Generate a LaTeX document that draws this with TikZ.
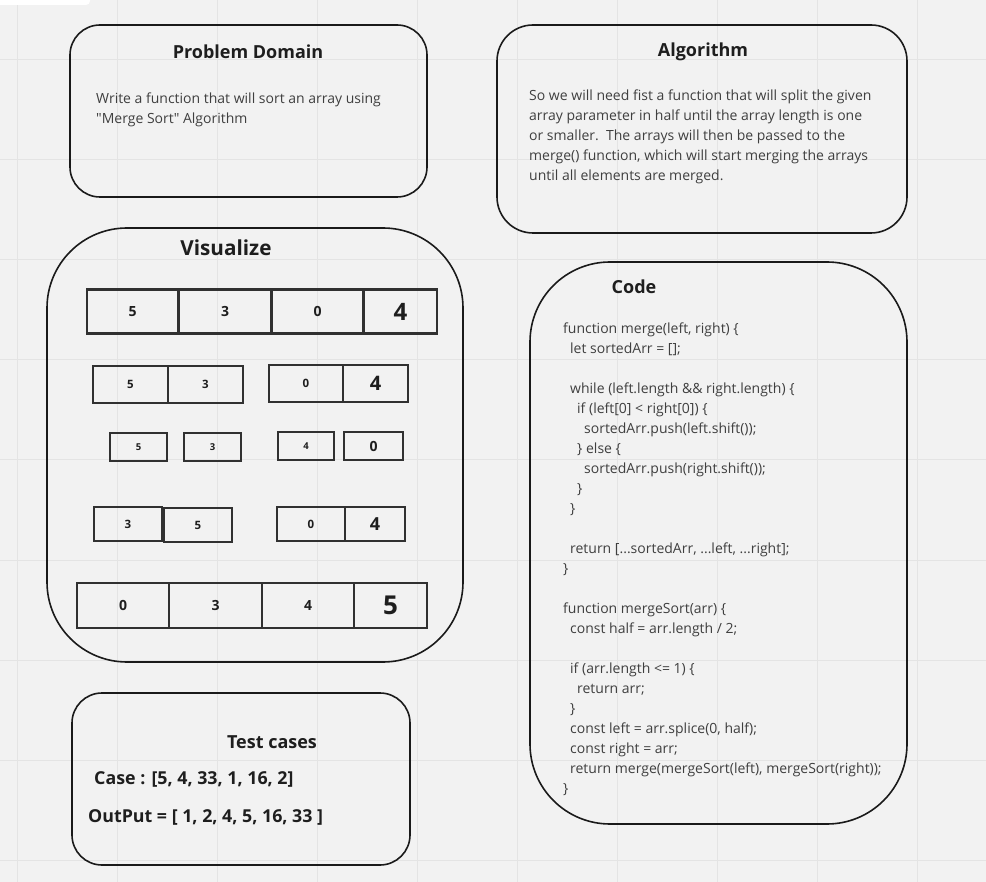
\documentclass[tikz,border=0pt]{standalone}
\usepackage{fontspec}
\setmainfont{Open Sans}
\newfontfamily\openplain{Open Sans}[Ligatures=ResetAll]
\definecolor{bgc}{HTML}{F2F2F2}
\definecolor{gridc}{HTML}{E4E4E4}
\definecolor{strokec}{HTML}{1A1A1A}
\definecolor{bodyc}{HTML}{3F3F3F}
\definecolor{titlec}{HTML}{1E1E1E}
\tikzset{
  panel/.style={draw=strokec, line width=1.6pt, rounded corners=#1},
  ttl/.style={text=titlec, font=\fontsize{18}{22}\selectfont\bfseries, inner sep=0pt},
  body/.style={text=bodyc, font=\fontsize{14}{20}\selectfont, align=left, anchor=north west, inner sep=0pt},
  cell/.style={draw=strokec!90, line width=1.7pt, inner sep=0pt, text=titlec, font=\bfseries},
  tc/.style={text=titlec, font=\fontsize{17.8}{22}\selectfont\bfseries, anchor=west, inner sep=0pt},
}
\newcommand{\fs}[1]{\fontsize{#1}{#1}\selectfont}
\newcommand{\sq}{{\openplain\char34}}
\begin{document}
\begin{tikzpicture}[x=1pt,y=-1pt]
\useasboundingbox (0,0) rectangle (986,882);
\fill[bgc] (0,0) rectangle (986,882);
\foreach \gx in {17,117,...,917} {\draw[gridc, line width=1pt] (\gx,0) -- (\gx,882);}
\foreach \gy in {60,160,...,860} {\draw[gridc, line width=1pt] (0,\gy) -- (986,\gy);}
\fill[white, rounded corners=4pt] (-10,-10) rectangle (90,5);

% Problem Domain
\draw[panel=30pt] (70,25) rectangle (427,197);
\node[ttl] (pdt) at (248,52) {Problem Domain};
\node[body] (pdb) at (96,93) {Write a function that will sort an array using\\\sq Merge Sort\sq\ Algorithm};

% Algorithm
\draw[panel=36pt] (497,25) rectangle (907,233);
\node[ttl] (alt) at (703,52) {Algorithm};
\node[body] (alb) at (529,90) {So we will need fist a function that will split the given\\array parameter in half until the array length is one\\or smaller.\ \ The arrays will then be passed to the\\merge() function, which will start merging the arrays\\until all elements are merged.};

% Visualize
\draw[panel=80pt] (47,228) rectangle (463,662);
\node[ttl, font=\fontsize{20.7}{24}\selectfont\bfseries] (vit) at (226,248) {Visualize};

% row 1
\node[cell, line width=2.2pt, minimum width=91pt, minimum height=44pt, font=\fs{14}\bfseries] (r1a) at (132.5,311.5) {5};
\node[cell, line width=2.2pt, minimum width=92pt, minimum height=44pt, font=\fs{14}\bfseries] (r1b) at (225,311.5) {3};
\node[cell, line width=2.2pt, minimum width=92pt, minimum height=44pt, font=\fs{14}\bfseries] (r1c) at (317.5,311.5) {0};
\node[cell, line width=2.2pt, minimum width=73pt, minimum height=44pt, font=\fs{24}\bfseries] (r1d) at (400.5,311.5) {4};
% row 2
\node[cell, minimum width=75pt, minimum height=37pt, font=\fs{11.5}\bfseries] (r2a) at (130.5,384.5) {5};
\node[cell, minimum width=75pt, minimum height=37pt, font=\fs{11.5}\bfseries] (r2b) at (205.5,384.5) {3};
\node[cell, minimum width=74pt, minimum height=37pt, font=\fs{11.5}\bfseries] (r2c) at (306,383.5) {0};
\node[cell, minimum width=65pt, minimum height=37pt, font=\fs{20}\bfseries] (r2d) at (375.5,383.5) {4};
% row 3
\node[cell, minimum width=57pt, minimum height=28pt, font=\fs{9.5}\bfseries] (r3a) at (138.5,447) {5};
\node[cell, minimum width=57pt, minimum height=28pt, font=\fs{9.5}\bfseries] (r3b) at (212.5,447) {3};
\node[cell, minimum width=56pt, minimum height=28pt, font=\fs{9.5}\bfseries] (r3c) at (306,446) {4};
\node[cell, minimum width=59pt, minimum height=28pt, font=\fs{14}\bfseries] (r3d) at (373.5,446) {0};
% row 4
\node[cell, minimum width=68pt, minimum height=34pt, font=\fs{11.5}\bfseries] (r4a) at (128,524) {3};
\node[cell, minimum width=68pt, minimum height=34pt, font=\fs{11.5}\bfseries] (r4b) at (198,525) {5};
\node[cell, minimum width=68pt, minimum height=34pt, font=\fs{11.5}\bfseries] (r4c) at (311,524) {0};
\node[cell, minimum width=60pt, minimum height=34pt, font=\fs{18}\bfseries] (r4d) at (375,524) {4};
% row 5
\node[cell, line width=2.2pt, minimum width=92pt, minimum height=45pt, font=\fs{14}\bfseries] (r5a) at (123,605.5) {0};
\node[cell, line width=2.2pt, minimum width=93pt, minimum height=45pt, font=\fs{14}\bfseries] (r5b) at (215.5,605.5) {3};
\node[cell, line width=2.2pt, minimum width=92pt, minimum height=45pt, font=\fs{14}\bfseries] (r5c) at (308,605.5) {4};
\node[cell, line width=2.2pt, minimum width=73pt, minimum height=45pt, font=\fs{26}\bfseries] (r5d) at (390.5,605.5) {5};

% Code
\draw[panel=80pt] (530,262) rectangle (907,824);
\node[ttl] (cdt) at (634,287) {Code};
\node[body] (cdb) at (563,323) {function merge(left, right) \{\\
\hspace*{7pt}let sortedArr = [];\\
\mbox{}\\
\hspace*{7pt}while (left.length \&\& right.length) \{\\
\hspace*{14pt}if (left[0] < right[0]) \{\\
\hspace*{21pt}sortedArr.push(left.shift());\\
\hspace*{14pt}\} else \{\\
\hspace*{21pt}sortedArr.push(right.shift());\\
\hspace*{14pt}\}\\
\hspace*{7pt}\}\\
\mbox{}\\
\hspace*{7pt}return [...sortedArr, ...left, ...right];\\
\}\\
\mbox{}\\
function mergeSort(arr) \{\\
\hspace*{7pt}const half = arr.length / 2;\\
\mbox{}\\
\hspace*{7pt}if (arr.length <= 1) \{\\
\hspace*{14pt}return arr;\\
\hspace*{7pt}\}\\
\hspace*{7pt}const left = arr.splice(0, half);\\
\hspace*{7pt}const right = arr;\\
\hspace*{7pt}return merge(mergeSort(left), mergeSort(right));\\
\}};

% Test cases
\draw[panel=30pt] (72,693) rectangle (410,865);
\node[ttl] (tct) at (272,742) {Test cases};
\node[tc] (tc1) at (94,779) {Case : [5, 4, 33, 1, 16, 2]};
\node[tc] (tc2) at (88,817) {OutPut = [ 1, 2, 4, 5, 16, 33 ]};
\end{tikzpicture}
\end{document}
